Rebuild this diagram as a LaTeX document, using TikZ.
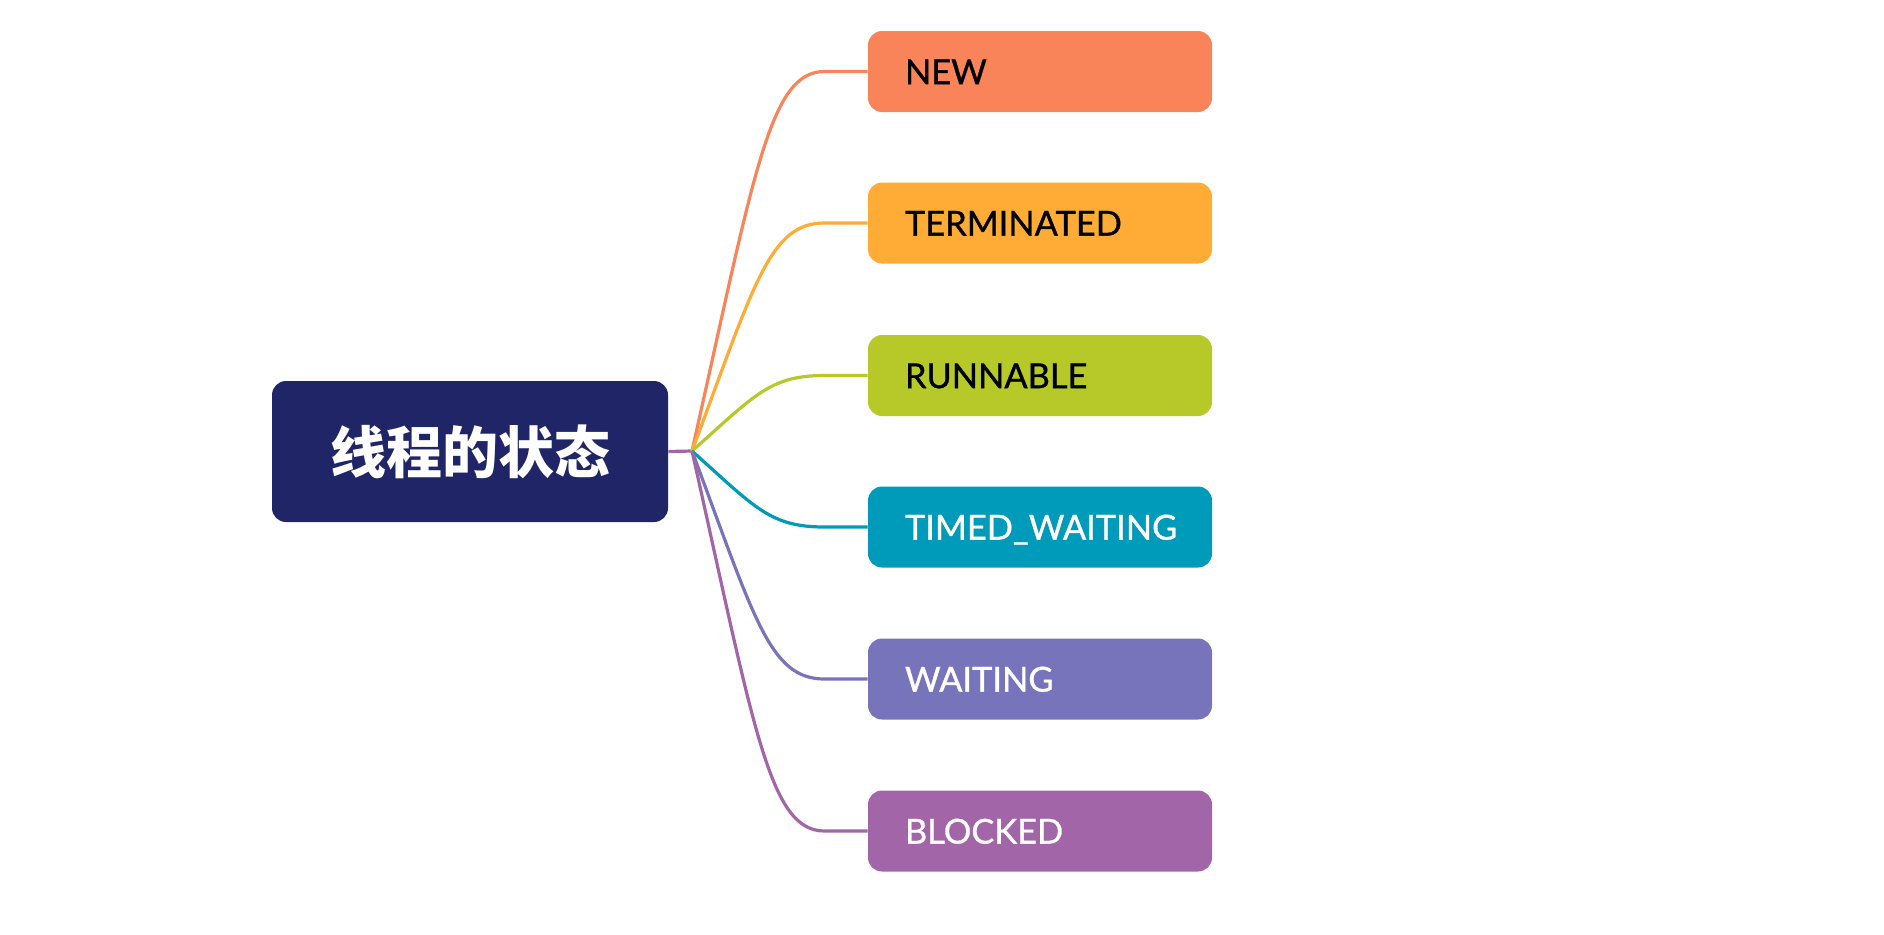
\documentclass[tikz,border=0pt]{standalone}
\usepackage{fontspec}
\setmainfont{Lato}
\newfontfamily\statefont{Lato}[FakeBold=0.9]
\newfontfamily\cjk{Noto Sans CJK SC}
\usepackage{tikz}
\usetikzlibrary{calc}
\definecolor{rootblue}{HTML}{1F2566}
\definecolor{cnew}{HTML}{FA8459}
\definecolor{cterm}{HTML}{FFAC37}
\definecolor{crun}{HTML}{B7C929}
\definecolor{ctimed}{HTML}{009ABB}
\definecolor{cwait}{HTML}{7874BC}
\definecolor{cblock}{HTML}{A266A8}

\begin{document}
\begin{tikzpicture}[x=0.5pt,y=-0.5pt,
   rootbox/.style={fill=rootblue,rounded corners=7pt,minimum width=198pt,
      minimum height=70.5pt,inner sep=0pt,text=white,
      font=\cjk\bfseries\fontsize{28}{30}\selectfont},
   state/.style={rounded corners=7pt,text width=135pt,inner xsep=18.5pt,
      inner ysep=0pt,minimum height=40.5pt,align=left,text height=12.6pt,
      text depth=0pt,font=\statefont\fontsize{17.2}{19}\selectfont},
   branch/.style={draw=#1,line width=1.6pt}]
  \useasboundingbox (0,0) rectangle (1884,934);
  % root and fan point
  \node[rootbox] (root) at (470,451.5) {线程的状态};
  \coordinate (hub) at (692,451);
  \draw[branch=cblock] (root.east) -- (hub);
  % states, with their branches
  \foreach \i/\y/\col/\tc/\lbl in {1/71.5/cnew/black/NEW,
      2/223/cterm/black/TERMINATED, 3/375.5/crun/black/RUNNABLE,
      4/527/ctimed/white/TIMED\_WAITING, 5/679/cwait/white/WAITING,
      6/831/cblock/white/BLOCKED}{
    \node[state,fill=\col,text=\tc] (s\i) at (1040,\y) {\lbl};
    \draw[branch=\col] (hub)
      .. controls ($(hub)!0.74!(hub|-s\i.west)+(31.5pt,0)$)
      and ([xshift=-49pt]s\i.west) .. ([xshift=-21.5pt]s\i.west) -- (s\i.west);
  }
\end{tikzpicture}
\end{document}
